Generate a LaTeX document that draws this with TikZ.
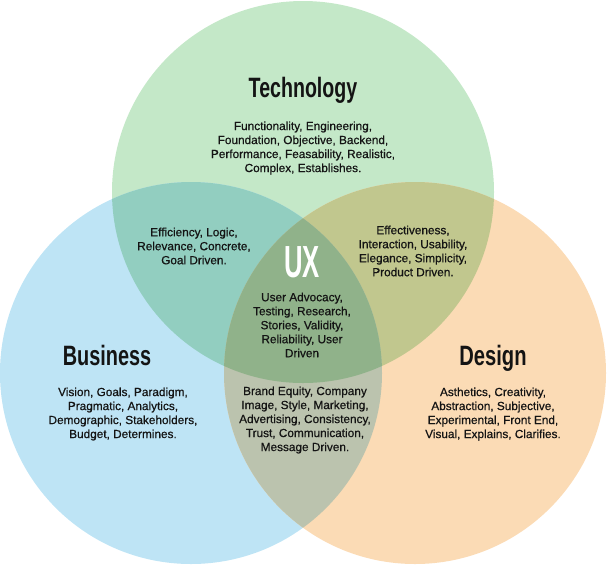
\documentclass[tikz,border=0pt]{standalone}
\usepackage{fontspec}
\setmainfont{Liberation Sans}
\newfontfamily\bodyfont[FakeBold=0.6]{Liberation Sans}
\usepackage{graphicx}
\definecolor{cT}{RGB}{196,232,200}
\definecolor{cB}{RGB}{190,228,245}
\definecolor{cD}{RGB}{251,219,181}
\definecolor{cTB}{RGB}{146,206,192}
\definecolor{cTD}{RGB}{193,199,142}
\definecolor{cBD}{RGB}{187,195,174}
\definecolor{cTBD}{RGB}{144,178,138}
\definecolor{ink}{RGB}{20,20,20}
\newcommand{\ttl}[2]{\scalebox{#1}[1]{#2}}
\begin{document}
\begin{tikzpicture}[x=1pt,y=-1pt,
  body/.style={align=center,font=\bodyfont\fontsize{11.8}{14}\selectfont,inner sep=0pt,text=ink},
  titletext/.style={font=\fontsize{28}{30}\selectfont\bfseries,inner sep=0pt,anchor=base,text=ink},
  uxtext/.style={font=\fontsize{45}{46}\selectfont\bfseries,inner sep=0pt,anchor=base,text=white}]
\useasboundingbox (0,0) rectangle (607,566);
\coordinate (T) at (303,192);
\coordinate (B) at (191,373);
\coordinate (D) at (415,373);
\def\R{191}
% base circles
\fill[cT] (T) circle[radius=\R];
\fill[cB] (B) circle[radius=\R];
\fill[cD] (D) circle[radius=\R];
% pairwise overlaps
\begin{scope}
  \clip (T) circle[radius=\R];
  \fill[cTB] (B) circle[radius=\R];
\end{scope}
\begin{scope}
  \clip (T) circle[radius=\R];
  \fill[cTD] (D) circle[radius=\R];
\end{scope}
\begin{scope}
  \clip (B) circle[radius=\R];
  \fill[cBD] (D) circle[radius=\R];
\end{scope}
% triple overlap
\begin{scope}
  \clip (T) circle[radius=\R];
  \clip (B) circle[radius=\R];
  \fill[cTBD] (D) circle[radius=\R];
\end{scope}
% titles
\node[titletext] (ttech) at (303,97) {\ttl{0.70}{Technology}};
\node[titletext] (tbus) at (107,365) {\ttl{0.71}{Business}};
\node[titletext] (tdes) at (493,365) {\ttl{0.72}{Design}};
\node[uxtext] (tux) at (302,277) {\ttl{0.57}{UX}};
% bodies
\node[body] (btech) at (303,148) {Functionality, Engineering,\\Foundation, Objective, Backend,\\Performance, Feasability, Realistic,\\Complex, Establishes.};
\node[body] (btb) at (194,246) {Efficiency, Logic,\\Relevance, Concrete,\\Goal Driven.};
\node[body] (btd) at (413,251) {Effectiveness,\\Interaction, Usability,\\Elegance, Simplicity,\\Product Driven.};
\node[body] (bux) at (302,325) {User Advocacy,\\Testing, Research,\\Stories, Validity,\\Reliability, User\\Driven};
\node[body] (bbus) at (123,414) {Vision, Goals, Paradigm,\\Pragmatic, Analytics,\\Demographic, Stakeholders,\\Budget, Determines.};
\node[body] (bbd) at (305,420) {Brand Equity, Company\\Image, Style, Marketing,\\Advertising, Consistency,\\Trust, Communication,\\Message Driven.};
\node[body] (bdes) at (493,414) {Asthetics, Creativity,\\Abstraction, Subjective,\\Experimental, Front End,\\Visual, Explains, Clarifies.};
\end{tikzpicture}
\end{document}
